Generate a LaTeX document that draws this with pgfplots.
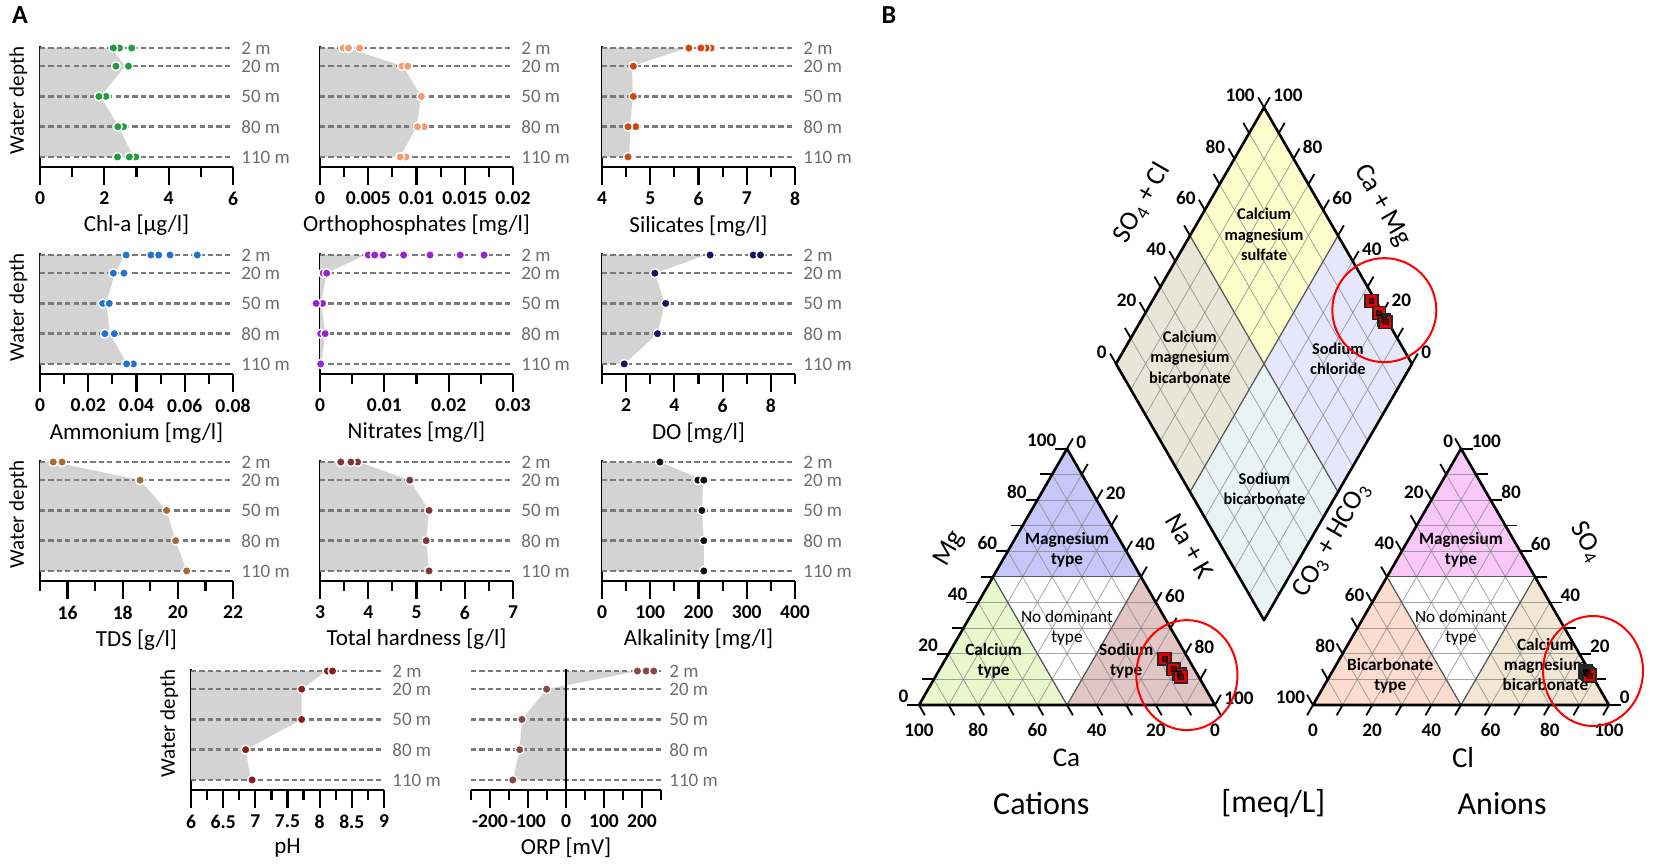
\documentclass[border=0pt]{standalone}
\usepackage{pgfplots}
\pgfplotsset{compat=1.18}
\usepackage{pgfplotstable}
\usepackage{fontspec}
\setmainfont{Carlito}

\definecolor{cChl}{HTML}{229C3C}
\definecolor{cOrt}{HTML}{F59B6E}
\definecolor{cSil}{HTML}{D24612}
\definecolor{cAmm}{HTML}{1F74D1}
\definecolor{cNit}{HTML}{9A22D2}
\definecolor{cDO}{HTML}{141466}
\definecolor{cTDS}{HTML}{A86A32}
\definecolor{cHar}{HTML}{7E3539}
\definecolor{cAlk}{HTML}{111111}
\definecolor{cPH}{HTML}{8E1B1B}
\definecolor{cORP}{HTML}{8A4646}
\definecolor{areagray}{HTML}{D3D3D3}
\definecolor{dashgray}{HTML}{7A7A7A}
\definecolor{labgray}{HTML}{6E6E6E}
\definecolor{pMgT}{HTML}{C6C6FA}
\definecolor{pCaT}{HTML}{E8F8CC}
\definecolor{pNaT}{HTML}{E2C6C6}
\definecolor{aMgT}{HTML}{F9C8F9}
\definecolor{aBiT}{HTML}{FBDCCF}
\definecolor{aCmT}{HTML}{F2E7D4}
\definecolor{dTop}{HTML}{FDFDCB}
\definecolor{dLef}{HTML}{E8E6D6}
\definecolor{dRig}{HTML}{E6E7FA}
\definecolor{dBot}{HTML}{EAF3F3}

\pgfplotsset{
  prof/.style={
    scale only axis, width=96.5pt, height=60.5pt,
    ymin=0, ymax=120, y dir=reverse,
    axis x line=bottom, axis y line=left,
    axis line style={-, line width=1.3pt, black},
    ytick=\empty, scaled x ticks=false,
    tick align=outside,
    major tick length=9pt, minor tick length=5pt,
    every tick/.style={black, line width=1.1pt},
    xticklabel style={font=\fontsize{9.8}{11}\selectfont\bfseries},
    xlabel style={font=\fontsize{11.5}{13}\selectfont, yshift=2pt},
    ylabel style={font=\fontsize{10.5}{12}\selectfont, at={(axis description cs:-0.03,0.55)}, anchor=south},
    clip=false, anchor=north west,
  },
  dot/.style={only marks, mark=*, mark size=2.2pt, mark options={draw=white, fill=#1, line width=0.7pt}},
  area/.style={fill=areagray, draw=none},
  dline/.style={dashgray, line width=1.2pt, dash pattern=on 2.6pt off 1.6pt},
  sq/.style={only marks, mark=square*, mark size=3.2pt, mark options={fill=red!92!black, draw=black!85, line width=0.8pt}},
  sqi/.style={only marks, mark=square*, mark size=1.2pt, mark options={fill=black!55!red, draw=none}},
}
\tikzset{
  deplab/.style={anchor=west, text=labgray, font=\fontsize{9.5}{11}\selectfont, inner sep=0pt, xshift=4pt},
  gridl/.style={black!50, line width=0.4pt, opacity=0.7},
  tk/.style={black, line width=0.9pt},
  outl/.style={black, line width=1.3pt, line join=round},
  inl/.style={black!65, line width=0.6pt},
  tl/.style={font=\fontsize{9.6}{10}\selectfont\bfseries, inner sep=0pt},
  rlab/.style={font=\fontsize{8.6}{10}\selectfont\bfseries, align=center, inner sep=0pt},
  rlabn/.style={font=\fontsize{8.6}{10}\selectfont, align=center, inner sep=0pt},
  dlab/.style={font=\fontsize{8.2}{10.2}\selectfont\bfseries, align=center, inner sep=0pt},
  ttl/.style={font=\fontsize{13.5}{15}\selectfont, inner sep=0pt},
  big/.style={font=\fontsize{16}{18}\selectfont, inner sep=0pt},
}
\newcommand\depths[2]{%
  \addplot[dline] coordinates {(#1,2) (#2,2)};
  \addplot[dline] coordinates {(#1,20) (#2,20)};
  \addplot[dline] coordinates {(#1,50) (#2,50)};
  \addplot[dline] coordinates {(#1,80) (#2,80)};
  \addplot[dline] coordinates {(#1,110) (#2,110)};
  \node[deplab] at (axis cs:#2,2) {2 m};
  \node[deplab] at (axis cs:#2,20) {20 m};
  \node[deplab] at (axis cs:#2,50) {50 m};
  \node[deplab] at (axis cs:#2,80) {80 m};
  \node[deplab] at (axis cs:#2,110) {110 m};
}

\pgfplotstableread{
Ca Mg NaK HCO3 SO4 Cl
8 18 74 1.5 13.0 85.5
7 14 79 1.2 12.5 86.3
6 12 82 1.0 12.0 87.0
6 11 83 0.8 11.5 87.7
}\piperdata

\begin{document}
\begin{tikzpicture}
\useasboundingbox (0,0) rectangle (827pt,-432pt);
\node[font=\fontsize{13}{15}\selectfont\bfseries] at (10pt,-7.5pt) {A};
\node[font=\fontsize{13}{15}\selectfont\bfseries] at (444.5pt,-7.5pt) {B};

% ---------- Chl-a
\begin{axis}[prof, at={(20pt,-23pt)}, xmin=0, xmax=6, xtick={0,2,4,6}, xticklabels={0,2,4,6}, minor xtick={1,3,5}, xlabel={Chl-a [µg/l]}, ylabel={Water depth}]
\addplot[area] coordinates {(0,2) (2.2,2) (2.65,20) (1.88,50) (2.45,80) (2.9,110) (0,110)} -- cycle;
\depths{0}{6}
\addplot[dot=cChl] coordinates {(2.47,2) (2.28,2) (2.85,2) (2.36,20) (2.75,20) (2.05,50) (1.83,50) (2.6,80) (2.42,80) (2.98,110) (2.78,110) (2.41,110)};
\end{axis}

% ---------- Orthophosphates
\begin{axis}[prof, at={(160pt,-23pt)}, xmin=0, xmax=0.02, xtick={0,0.005,0.01,0.015,0.02}, xticklabels={0,0.005,0.01,0.015,0.02}, minor xtick={0.0025,0.0075,0.0125,0.0175}, xlabel={Orthophosphates [mg/l]}]
\addplot[area] coordinates {(0,2) (0.0028,2) (0.0086,20) (0.0105,50) (0.0100,80) (0.0083,110) (0,110)} -- cycle;
\depths{0}{0.02}
\addplot[dot=cOrt] coordinates {(0.0024,2) (0.0041,2) (0.00295,2) (0.0085,20) (0.0091,20) (0.0105,50) (0.0108,80) (0.0101,80) (0.0089,110) (0.0083,110)};
\end{axis}

% ---------- Silicates
\begin{axis}[prof, at={(301pt,-23pt)}, xmin=4, xmax=8, xtick={4,5,6,7,8}, xticklabels={4,5,6,7,8}, minor xtick={4.5,5.5,6.5,7.5}, xlabel={Silicates [mg/l]}]
\addplot[area] coordinates {(4,2) (5.75,2) (4.62,20) (4.64,50) (4.58,80) (4.57,110) (4,110)} -- cycle;
\depths{4}{8}
\addplot[dot=cSil] coordinates {(6.26,2) (6.16,2) (6.05,2) (5.80,2) (4.65,20) (4.65,50) (4.70,80) (4.54,80) (4.54,110)};
\end{axis}

% ---------- Ammonium
\begin{axis}[prof, at={(20pt,-126.5pt)}, xmin=0, xmax=0.08, xtick={0,0.02,0.04,0.06,0.08}, xticklabels={0,0.02,0.04,0.06,0.08}, minor xtick={0.01,0.03,0.05,0.07}, xlabel={Ammonium [mg/l]}, ylabel={Water depth}]
\addplot[area] coordinates {(0,2) (0.035,2) (0.031,20) (0.0275,50) (0.029,80) (0.036,110) (0,110)} -- cycle;
\depths{0}{0.08}
\addplot[dot=cAmm] coordinates {(0.0357,2) (0.046,2) (0.0492,2) (0.0539,2) (0.0652,2) (0.0304,20) (0.0348,20) (0.026,50) (0.0287,50) (0.0269,80) (0.0308,80) (0.0387,110) (0.0359,110)};
\end{axis}

% ---------- Nitrates
\begin{axis}[prof, at={(160pt,-126.5pt)}, xmin=0, xmax=0.03, xtick={0,0.01,0.02,0.03}, xticklabels={0,0.01,0.02,0.03}, minor xtick={0.005,0.015,0.025}, xlabel={Nitrates [mg/l]}]
\addplot[area] coordinates {(0,2) (0.007,2) (0.001,20) (0.0002,50) (0.0008,80) (0.0002,110) (0,110)} -- cycle;
\depths{0}{0.03}
\addplot[dot=cNit] coordinates {(0.0075,2) (0.0085,2) (0.0098,2) (0.0130,2) (0.0171,2) (0.0218,2) (0.0255,2) (0.0005,20) (0.00104,20) (0.0004,50) (-0.0006,50) (0.0001,80) (0.0008,80) (0.0001,110)};
\end{axis}

% ---------- DO
\begin{axis}[prof, at={(301pt,-126.5pt)}, xmin=1, xmax=9, xtick={2,4,6,8}, xticklabels={2,4,6,8}, minor xtick={1,3,5,7,9}, xlabel={DO [mg/l]}]
\addplot[area] coordinates {(1,2) (5.3,2) (3.2,20) (3.6,50) (3.3,80) (1.92,110) (1,110)} -- cycle;
\depths{1}{9}
\addplot[dot=cDO] coordinates {(5.48,2) (7.27,2) (7.57,2) (3.19,20) (3.64,50) (3.30,80) (1.92,110)};
\end{axis}

% ---------- TDS
\begin{axis}[prof, at={(20pt,-230pt)}, xmin=15, xmax=22, xtick={16,18,20,22}, xticklabels={16,18,20,22}, minor xtick={15,17,19,21}, xlabel={TDS [g/l]}, ylabel={Water depth}]
\addplot[area] coordinates {(15,2) (15.5,2) (18.63,20) (19.59,50) (19.92,80) (20.32,110) (15,110)} -- cycle;
\depths{15}{22}
\addplot[dot=cTDS] coordinates {(15.48,2) (15.80,2) (18.63,20) (19.59,50) (19.92,80) (20.32,110)};
\end{axis}

% ---------- Total hardness
\begin{axis}[prof, at={(160pt,-230pt)}, xmin=3, xmax=7, xtick={3,4,5,6,7}, xticklabels={3,4,5,6,7}, minor xtick={3.5,4.5,5.5,6.5}, xlabel={Total hardness [g/l]}]
\addplot[area] coordinates {(3,2) (3.8,2) (4.86,20) (5.26,50) (5.20,80) (5.26,110) (3,110)} -- cycle;
\depths{3}{7}
\addplot[dot=cHar] coordinates {(3.78,2) (3.43,2) (3.64,2) (4.86,20) (5.26,50) (5.20,80) (5.26,110)};
\end{axis}

% ---------- Alkalinity
\begin{axis}[prof, at={(301pt,-230pt)}, xmin=0, xmax=400, xtick={0,100,200,300,400}, xticklabels={0,100,200,300,400}, minor xtick={50,150,250,350}, xlabel={Alkalinity [mg/l]}]
\addplot[area] coordinates {(0,2) (120,2) (210,20) (207,50) (211,80) (211,110) (0,110)} -- cycle;
\depths{0}{400}
\addplot[dot=cAlk] coordinates {(120,2) (198.6,20) (211,20) (207,50) (211,80) (211,110)};
\end{axis}

% ---------- pH
\begin{axis}[prof, at={(95.5pt,-334.5pt)}, xmin=6, xmax=9, xtick={6,6.5,7,7.5,8,8.5,9}, xticklabels={6,6.5,7,7.5,8,8.5,9}, minor xtick={6.25,6.75,7.25,7.75,8.25,8.75}, xlabel={pH}, ylabel={Water depth}]
\addplot[area] coordinates {(6,2) (8.1,2) (7.72,20) (7.72,50) (6.85,80) (6.93,110) (6,110)} -- cycle;
\depths{6}{9}
\addplot[dot=cPH] coordinates {(8.12,2) (8.20,2) (7.72,20) (7.72,50) (6.85,80) (6.95,110)};
\end{axis}

% ---------- ORP
\begin{axis}[prof, width=95pt, axis y line=none, at={(235.5pt,-334.5pt)}, xmin=-250, xmax=250, xtick={-200,-100,0,100,200}, xticklabels={-200,-100,0,100,200}, minor xtick={-250,-150,-50,50,150,250}, xlabel={ORP [mV]}]
\addplot[area] coordinates {(0,2) (190,2) (-51,20) (-116,50) (-122,80) (-140,110) (0,110)} -- cycle;
\depths{-250}{250}
\addplot[black, line width=1.3pt] coordinates {(0,0) (0,120)};
\addplot[dot=cORP] coordinates {(188,2) (211,2) (231,2) (-51,20) (-116,50) (-122,80) (-140,110)};
\end{axis}

% ================= PIPER =================
\begin{axis}[hide axis, clip=false, x=1.48pt, y=1.48pt, xmin=-30, xmax=245, ymin=-40, ymax=215,
  at={(415.1pt,-411.7pt)}, anchor=south west]
% region fills
\addplot[fill=pCaT, draw=none] coordinates {(0,0) (50,0) (25,43.301)} -- cycle;
\addplot[fill=pNaT, draw=none] coordinates {(50,0) (100,0) (75,43.301)} -- cycle;
\addplot[fill=pMgT, draw=none] coordinates {(25,43.301) (75,43.301) (50,86.603)} -- cycle;
\addplot[fill=aBiT, draw=none] coordinates {(133.1,0) (183.1,0) (158.1,43.301)} -- cycle;
\addplot[fill=aCmT, draw=none] coordinates {(183.1,0) (233.1,0) (208.1,43.301)} -- cycle;
\addplot[fill=aMgT, draw=none] coordinates {(158.1,43.301) (208.1,43.301) (183.1,86.603)} -- cycle;
\addplot[fill=dBot, draw=none] coordinates {(116.55,28.666) (141.55,71.968) (116.55,115.269) (91.55,71.968)} -- cycle;
\addplot[fill=dRig, draw=none] coordinates {(141.55,71.968) (166.55,115.269) (141.55,158.571) (116.55,115.269)} -- cycle;
\addplot[fill=dLef, draw=none] coordinates {(91.55,71.968) (116.55,115.269) (91.55,158.571) (66.55,115.269)} -- cycle;
\addplot[fill=dTop, draw=none] coordinates {(116.55,115.269) (141.55,158.571) (116.55,201.872) (91.55,158.571)} -- cycle;
% grid
\pgfplotsinvokeforeach{10,20,...,90}{
  \draw[gridl] ({#1/2},{0.8660254*#1}) -- ({100-#1/2},{0.8660254*#1});
  \draw[gridl] (#1,0) -- ({#1/2},{0.8660254*#1});
  \draw[gridl] (#1,0) -- ({50+#1/2},{0.8660254*(100-#1)});
  \draw[gridl] ({133.1+#1/2},{0.8660254*#1}) -- ({233.1-#1/2},{0.8660254*#1});
  \draw[gridl] ({133.1+#1},0) -- ({133.1+#1/2},{0.8660254*#1});
  \draw[gridl] ({133.1+#1},0) -- ({183.1+#1/2},{0.8660254*(100-#1)});
  \draw[gridl] ({116.55+0.5*#1},{28.666+0.8660254*#1}) -- ({66.55+0.5*#1},{115.269+0.8660254*#1});
  \draw[gridl] ({116.55-0.5*#1},{28.666+0.8660254*#1}) -- ({166.55-0.5*#1},{115.269+0.8660254*#1});
}
% inner boundaries
\draw[inl] (25,43.301) -- (75,43.301);
\draw[inl] (50,0) -- (25,43.301);
\draw[inl] (50,0) -- (75,43.301);
\draw[inl] (158.1,43.301) -- (208.1,43.301);
\draw[inl] (183.1,0) -- (158.1,43.301);
\draw[inl] (183.1,0) -- (208.1,43.301);
\draw[inl] (91.55,71.968) -- (141.55,158.571);
\draw[inl] (141.55,71.968) -- (91.55,158.571);
% outlines
\draw[outl] (0,0) -- (100,0) -- (50,86.603) -- cycle;
\draw[outl] (133.1,0) -- (233.1,0) -- (183.1,86.603) -- cycle;
\draw[outl] (116.55,28.666) -- (166.55,115.269) -- (116.55,201.872) -- (66.55,115.269) -- cycle;
% ticks
\pgfplotsinvokeforeach{0,10,...,100}{
  \draw[tk] (#1,0) -- ({#1+2},-3.464);
  \draw[tk] ({#1/2},{0.8660254*#1}) -- ({#1/2-4},{0.8660254*#1});
  \draw[tk] ({50+#1/2},{0.8660254*(100-#1)}) -- ({52+#1/2},{0.8660254*(100-#1)+3.464});
  \draw[tk] ({133.1+#1},0) -- ({131.1+#1},-3.464);
  \draw[tk] ({133.1+#1/2},{0.8660254*#1}) -- ({131.1+#1/2},{0.8660254*#1+3.464});
  \draw[tk] ({233.1-#1/2},{0.8660254*#1}) -- ({237.1-#1/2},{0.8660254*#1});
  \draw[tk] ({66.55+0.5*#1},{115.269+0.8660254*#1}) -- ({64.55+0.5*#1},{118.733+0.8660254*#1});
  \draw[tk] ({166.55-0.5*#1},{115.269+0.8660254*#1}) -- ({168.55-0.5*#1},{118.733+0.8660254*#1});
}
% tick labels T1
\node[tl] at (0,-8.5) {100}; \node[tl] at (20,-8.5) {80}; \node[tl] at (40,-8.5) {60};
\node[tl] at (60,-8.5) {40}; \node[tl] at (80,-8.5) {20}; \node[tl] at (100,-8.5) {0};
\node[tl, anchor=east] at (-3.5,2.8) {0}; \node[tl, anchor=east] at (6.5,20.12) {20};
\node[tl, anchor=east] at (16.5,37.44) {40}; \node[tl, anchor=east] at (26.5,54.76) {60};
\node[tl, anchor=east] at (36.5,72.08) {80}; \node[tl, anchor=east] at (46.5,89.4) {100};
\node[tl, anchor=west] at (53,88.9) {0}; \node[tl, anchor=west] at (63,71.58) {20};
\node[tl, anchor=west] at (73,54.26) {40}; \node[tl, anchor=west] at (83,36.94) {60};
\node[tl, anchor=west] at (93,19.62) {80}; \node[tl, anchor=west] at (103,2.3) {100};
% tick labels T2
\node[tl] at (133.1,-8.5) {0}; \node[tl] at (153.1,-8.5) {20}; \node[tl] at (173.1,-8.5) {40};
\node[tl] at (193.1,-8.5) {60}; \node[tl] at (213.1,-8.5) {80}; \node[tl] at (233.1,-8.5) {100};
\node[tl, anchor=east] at (130.6,2.6) {100}; \node[tl, anchor=east] at (140.6,19.92) {80};
\node[tl, anchor=east] at (150.6,37.24) {60}; \node[tl, anchor=east] at (160.6,54.56) {40};
\node[tl, anchor=east] at (170.6,71.88) {20}; \node[tl, anchor=east] at (180.6,89.2) {0};
\node[tl, anchor=west] at (236.6,2.6) {0}; \node[tl, anchor=west] at (226.6,19.92) {20};
\node[tl, anchor=west] at (216.6,37.24) {40}; \node[tl, anchor=west] at (206.6,54.56) {60};
\node[tl, anchor=west] at (196.6,71.88) {80}; \node[tl, anchor=west] at (186.6,89.2) {100};
% tick labels diamond
\node[tl, anchor=east] at (63.55,119.27) {0}; \node[tl, anchor=east] at (73.55,136.59) {20};
\node[tl, anchor=east] at (83.55,153.91) {40}; \node[tl, anchor=east] at (93.55,171.23) {60};
\node[tl, anchor=east] at (103.55,188.55) {80}; \node[tl, anchor=east] at (113.55,205.87) {100};
\node[tl, anchor=west] at (169.55,119.27) {0}; \node[tl, anchor=west] at (159.55,136.59) {20};
\node[tl, anchor=west] at (149.55,153.91) {40}; \node[tl, anchor=west] at (139.55,171.23) {60};
\node[tl, anchor=west] at (129.55,188.55) {80}; \node[tl, anchor=west] at (119.55,205.87) {100};
% region labels
\node[dlab] at (116.55,159) {Calcium\\magnesium\\sulfate};
\node[dlab] at (91.5,117.5) {Calcium\\magnesium\\bicarbonate};
\node[dlab] at (141.5,117) {Sodium\\chloride};
\node[dlab] at (116.7,73) {Sodium\\bicarbonate};
\node[rlab] at (50,52.5) {Magnesium\\type};
\node[rlabn] at (50,26) {No dominant\\type};
\node[rlab] at (25.2,15) {Calcium\\type};
\node[rlab] at (70,15) {Sodium\\type};
\node[rlab] at (183.1,52.5) {Magnesium\\type};
\node[rlabn] at (183.1,26) {No dominant\\type};
\node[rlab] at (159.2,10) {Bicarbonate\\type};
\node[rlab] at (211.6,13.6) {Calcium\\magnesium\\bicarbonate};
% axis titles
\node[ttl, rotate=60] at (75.4,169.5) {SO\textsubscript{4} + Cl};
\node[ttl, rotate=-60] at (156.5,168.8) {Ca + Mg};
\node[ttl, rotate=60] at (10.3,52.9) {Mg};
\node[ttl, rotate=-60] at (91.5,53.6) {Na + K};
\node[ttl] at (49.8,-17.7) {Ca};
\node[ttl, rotate=60] at (139.6,55.7) {CO\textsubscript{3} + HCO\textsubscript{3}};
\node[ttl, rotate=-60] at (225.5,55) {SO\textsubscript{4}};
\node[font=\fontsize{14.5}{16}\selectfont, inner sep=0pt] at (183.8,-17.7) {Cl};
\node[big] at (41.3,-33.4) {Cations};
\node[big] at (119.7,-33.4) {[meq/L]};
\node[big] at (197,-33.4) {Anions};
% data
\addplot[sq] table[x expr={\thisrow{NaK}+0.5*\thisrow{Mg}}, y expr={0.8660254*\thisrow{Mg}}] {\piperdata};
\addplot[sqi] table[x expr={\thisrow{NaK}+0.5*\thisrow{Mg}}, y expr={0.8660254*\thisrow{Mg}}] {\piperdata};
\addplot[sq] table[x expr={133.1+\thisrow{Cl}+0.5*\thisrow{SO4}}, y expr={0.8660254*\thisrow{SO4}}] {\piperdata};
\addplot[sqi] table[x expr={133.1+\thisrow{Cl}+0.5*\thisrow{SO4}}, y expr={0.8660254*\thisrow{SO4}}] {\piperdata};
\addplot[sq] table[x expr={116.55+0.5*(\thisrow{SO4}+\thisrow{Cl})-0.5*(\thisrow{Ca}+\thisrow{Mg})}, y expr={28.666+0.8660254*(\thisrow{SO4}+\thisrow{Cl}+\thisrow{Ca}+\thisrow{Mg})}] {\piperdata};
\addplot[sqi] table[x expr={116.55+0.5*(\thisrow{SO4}+\thisrow{Cl})-0.5*(\thisrow{Ca}+\thisrow{Mg})}, y expr={28.666+0.8660254*(\thisrow{SO4}+\thisrow{Cl}+\thisrow{Ca}+\thisrow{Mg})}] {\piperdata};
% highlight circles
\draw[red, line width=1pt] (157.2,133.4) circle[radius=26pt];
\draw[red, line width=1pt] (90.5,10.1) ellipse[x radius=25.3pt, y radius=27.5pt];
\draw[red, line width=1pt] (227.7,11.5) ellipse[x radius=25pt, y radius=27.5pt];
\end{axis}
\end{tikzpicture}
\end{document}
